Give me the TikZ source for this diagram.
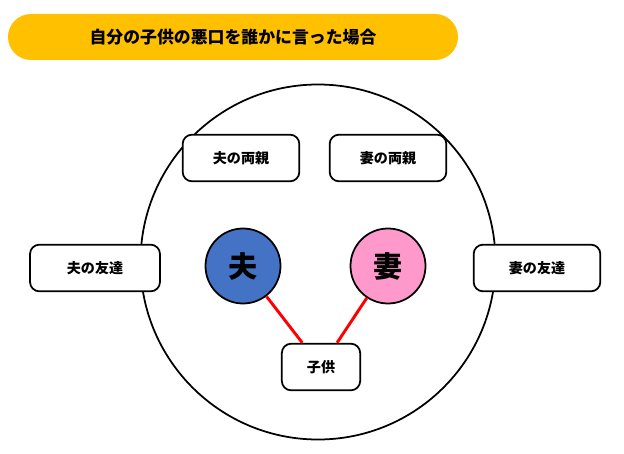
\documentclass[tikz,border=0pt]{standalone}
\usepackage{fontspec}
\setmainfont{Noto Sans CJK JP}
\usepackage{tikz}
\usetikzlibrary{positioning}
\definecolor{titleyellow}{HTML}{FFC000}
\definecolor{husband}{HTML}{4472C4}
\definecolor{wife}{HTML}{FF99CC}
\begin{document}
\begin{tikzpicture}[x=0.03cm,y=-0.03cm,
    person/.style={draw=black,line width=1.5pt,rounded corners=8pt,fill=white,
        minimum width=3.5cm,minimum height=1.4cm,font=\large\bfseries},
    spouse/.style={draw=black,line width=1.5pt,circle,minimum size=2.25cm,font=\Huge\bfseries},
    tie/.style={red,line width=2.5pt}]
    \useasboundingbox (0,0) rectangle (624,454);
    % Title
    \node[fill=titleyellow,rounded corners=0.69cm,minimum width=13.5cm,minimum height=1.38cm,
        font=\Large\bfseries] (title) at (233,37) {自分の子供の悪口を誰かに言った場合};
    % Circle
    \node[draw=black,line width=1.5pt,circle,minimum size=10.65cm] (ring) at (318,262) {};
    % People
    \node[person] (hparents) at (241,158) {夫の両親};
    \node[person] (wparents) at (388,158) {妻の両親};
    \node[person,minimum width=3.9cm] (hfriend) at (95,268) {夫の友達};
    \node[person,minimum width=3.8cm] (wfriend) at (537,268) {妻の友達};
    \node[person,minimum width=2.35cm] (child) at (321,367) {子供};
    \node[spouse,fill=husband] (husband) at (243,266) {夫};
    \node[spouse,fill=wife] (wife) at (388,266) {妻};
    % Ties
    \draw[tie] (husband) -- (child);
    \draw[tie] (wife) -- (child);
\end{tikzpicture}
\end{document}
